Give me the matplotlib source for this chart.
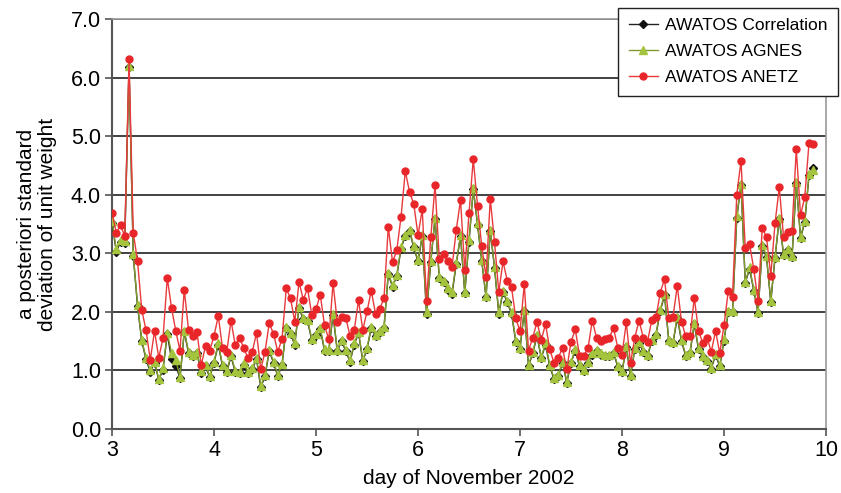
import numpy as np
import matplotlib
matplotlib.use('Agg')
import matplotlib.pyplot as plt

plt.rcParams['font.family'] = ['Liberation Sans Narrow', 'Liberation Sans', 'DejaVu Sans']

# 每小时一个值, 从11月3日0时开始
anetz = [3.69, 3.35, 3.48, 3.29, 6.32, 3.35, 2.87, 2.03, 1.69, 1.18, 1.67, 1.22,
         1.55, 2.58, 2.07, 1.67, 1.34, 2.38, 1.69, 1.58, 1.65, 1.09, 1.42, 1.34,
         1.59, 1.93, 1.38, 1.32, 1.85, 1.43, 1.56, 1.38, 1.21, 1.32, 1.64, 1.02,
         1.32, 1.81, 1.62, 1.32, 1.54, 2.40, 2.23, 1.83, 2.51, 2.21, 2.40, 1.95,
         2.05, 2.29, 1.77, 1.53, 2.49, 1.83, 1.92, 1.90, 1.59, 1.69, 2.20, 1.69,
         2.01, 2.36, 1.97, 2.05, 2.24, 3.45, 2.85, 3.05, 3.62, 4.40, 4.05, 3.84,
         3.31, 3.75, 2.18, 3.27, 4.16, 2.91, 2.98, 2.87, 2.76, 3.40, 3.91, 2.71,
         3.69, 4.61, 3.81, 3.12, 2.59, 3.93, 3.19, 2.34, 2.86, 2.53, 2.42, 1.89,
         1.67, 2.47, 1.34, 1.56, 1.83, 1.52, 1.79, 1.36, 1.13, 1.22, 1.38, 1.02,
         1.49, 1.70, 1.25, 1.25, 1.38, 1.85, 1.56, 1.50, 1.54, 1.56, 1.72, 1.39,
         1.27, 1.82, 1.12, 1.56, 1.85, 1.56, 1.49, 1.86, 1.91, 2.33, 2.56, 1.89,
         1.92, 2.44, 1.83, 1.58, 1.58, 2.24, 1.67, 1.47, 1.56, 1.32, 1.67, 1.30,
         1.77, 2.36, 2.26, 4.00, 4.58, 3.09, 3.16, 2.73, 2.19, 3.44, 3.27, 2.62,
         3.51, 4.13, 3.28, 3.36, 3.38, 4.78, 3.65, 3.96, 4.89, 4.86]

agnes = [3.55, 3.07, 3.22, 3.21, 6.19, 2.98, 2.12, 1.52, 1.21, 1.01, 1.15, 0.85,
         1.04, 1.64, 1.30, 1.18, 0.89, 1.68, 1.32, 1.26, 1.31, 0.99, 1.09, 0.90,
         1.15, 1.46, 1.09, 0.99, 1.26, 0.99, 0.97, 1.12, 0.98, 1.04, 1.21, 0.74,
         0.92, 1.35, 1.15, 0.92, 1.11, 1.75, 1.64, 1.46, 2.09, 1.89, 1.86, 1.54,
         1.63, 1.72, 1.36, 1.35, 1.97, 1.35, 1.52, 1.35, 1.17, 1.46, 1.66, 1.18,
         1.38, 1.75, 1.60, 1.68, 1.75, 2.66, 2.45, 2.63, 3.10, 3.32, 3.40, 3.12,
         2.88, 3.31, 1.99, 2.87, 3.61, 2.60, 2.53, 2.40, 2.34, 2.84, 3.31, 2.34,
         3.22, 4.11, 3.51, 2.88, 2.27, 3.40, 2.77, 1.99, 2.36, 2.18, 1.99, 1.51,
         1.39, 2.04, 1.09, 1.32, 1.60, 1.23, 1.46, 1.09, 0.87, 0.92, 1.15, 0.81,
         1.15, 1.36, 1.09, 1.01, 1.15, 1.29, 1.35, 1.29, 1.26, 1.26, 1.32, 1.08,
         0.99, 1.42, 0.92, 1.38, 1.49, 1.34, 1.26, 1.52, 1.63, 2.04, 2.30, 1.52,
         1.49, 1.92, 1.52, 1.26, 1.32, 1.81, 1.38, 1.25, 1.18, 1.05, 1.28, 1.09,
         1.53, 2.02, 2.02, 3.63, 4.19, 2.51, 2.76, 2.38, 2.00, 3.14, 2.95, 2.19,
         2.94, 3.61, 2.99, 3.07, 2.95, 4.22, 3.28, 3.55, 4.35, 4.42]

correlation = [3.52, 3.03, 3.19, 3.18, 6.18, 2.96, 2.10, 1.50, 1.19, 0.98, 1.13, 0.84,
               1.01, 1.62, 1.19, 1.08, 0.87, 1.66, 1.30, 1.24, 1.29, 0.96, 1.07, 0.88,
               1.13, 1.44, 1.07, 0.97, 1.24, 0.97, 0.95, 1.10, 0.96, 1.02, 1.19, 0.71,
               0.90, 1.33, 1.13, 0.90, 1.09, 1.73, 1.62, 1.44, 2.07, 1.87, 1.84, 1.52,
               1.61, 1.70, 1.34, 1.33, 1.95, 1.33, 1.50, 1.33, 1.15, 1.44, 1.64, 1.16,
               1.36, 1.73, 1.58, 1.66, 1.73, 2.64, 2.43, 2.61, 3.08, 3.30, 3.38, 3.10,
               2.86, 3.29, 1.97, 2.85, 3.59, 2.58, 2.51, 2.37, 2.30, 2.82, 3.29, 2.32,
               3.20, 4.09, 3.49, 2.86, 2.25, 3.38, 2.75, 1.97, 2.34, 2.16, 1.97, 1.49,
               1.37, 2.02, 1.07, 1.30, 1.58, 1.21, 1.44, 1.07, 0.85, 0.90, 1.13, 0.79,
               1.13, 1.34, 1.07, 0.99, 1.13, 1.27, 1.33, 1.27, 1.24, 1.24, 1.30, 1.06,
               0.97, 1.40, 0.90, 1.36, 1.47, 1.32, 1.24, 1.50, 1.61, 2.02, 2.28, 1.50,
               1.47, 1.90, 1.50, 1.24, 1.30, 1.79, 1.36, 1.23, 1.16, 1.03, 1.26, 1.07,
               1.51, 2.00, 2.00, 3.61, 4.17, 2.49, 2.74, 2.36, 1.98, 3.12, 2.93, 2.17,
               2.92, 3.59, 2.97, 3.05, 2.93, 4.20, 3.26, 3.53, 4.33, 4.45]

day = 3 + np.arange(len(anetz)) / 24.0

fig = plt.figure(figsize=(8.41, 4.93), dpi=100)
ax = fig.add_axes([0.1332, 0.1298, 0.8490, 0.8317])

ax.plot(day, correlation, color='#222222', lw=1.0, marker='D', ms=4,
        mfc='#111111', mec='#111111', label='AWATOS Correlation', zorder=3)
ax.plot(day, agnes, color='#7f9a2a', lw=1.0, marker='^', ms=6,
        mfc='#a3c43c', mec='#a3c43c', label='AWATOS AGNES', zorder=4)
ax.plot(day, anetz, color='#e8393c', lw=1.0, marker='o', ms=5,
        mfc='#e8262a', mec='#e8262a', label='AWATOS ANETZ', zorder=5)

ax.set_xlim(3, 10)
ax.set_ylim(0, 7)
ax.set_xticks(range(3, 11))
ax.set_yticks(np.arange(0, 7.1, 1.0))
ax.set_yticklabels([f'{v:.1f}' for v in np.arange(0, 7.1, 1.0)])
ax.grid(axis='y', color='#333333', lw=1.3)
ax.set_axisbelow(True)

for s in ['left', 'bottom']:
    ax.spines[s].set_color('#555555')
    ax.spines[s].set_linewidth(1.5)
for s in ['top', 'right']:
    ax.spines[s].set_color('#999999')
    ax.spines[s].set_linewidth(1.2)

ax.tick_params(axis='both', direction='out', length=5, width=1.2,
               color='#555555', labelsize=15.5, pad=3)

ax.set_xlabel('day of November 2002', fontsize=15, labelpad=6)
ax.set_ylabel('a posteriori standard\ndeviation of unit weight', fontsize=15,
              labelpad=10, linespacing=1.1)

leg = ax.legend(loc='upper right', bbox_to_anchor=(0.9964, 0.984),
                bbox_transform=fig.transFigure, fontsize=12.5, frameon=True,
                fancybox=False, edgecolor='#222222', framealpha=1,
                handlelength=1.7, borderpad=0.6, labelspacing=0.62,
                handletextpad=0.4, borderaxespad=0)
leg.get_frame().set_linewidth(1.0)
leg.set_zorder(10)

fig.savefig('out.png', dpi=100)
